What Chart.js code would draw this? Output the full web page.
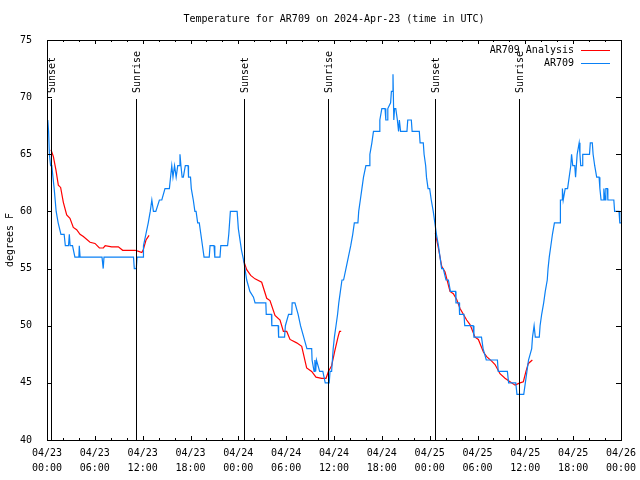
<!DOCTYPE html>
<html>
<head>
<meta charset="utf-8">
<script src="https://cdn.jsdelivr.net/npm/chart.js@4"></script>
<style>
  body { margin: 0; background: #fff; }
  canvas { display: block; }
</style>
</head>
<body>
<canvas id="myChart" width="640" height="480"></canvas>
<script>
// hours since 2024-04-23 00:00 UTC
var obsHours = [
  0.1, 0.2, 0.3, 0.45, 0.6, 0.9, 1.15, 1.4, 1.75, 2.15, 2.3, 2.7, 2.8, 2.9, 3.2, 3.5, 4.0, 4.05, 4.15,
  6.9, 7.05, 7.15, 10.85, 10.95, 11.2, 11.3, 12.05, 12.1, 12.4, 12.7, 12.95, 13.15, 13.35, 13.65,
  14.1, 14.4, 14.8, 15.35, 15.5, 15.65, 15.8, 16.0, 16.2, 16.4, 16.6, 16.68, 16.8, 16.95, 17.1,
  17.35, 17.7, 17.75, 18.0, 18.1, 18.35, 18.55, 18.7, 18.9, 19.1, 19.3, 19.5, 19.7, 20.35, 20.45,
  20.95, 21.05, 21.7, 21.8, 22.65, 22.8, 23.0, 23.85, 24.0, 24.4, 24.7, 25.05, 25.45, 25.9, 26.1,
  27.45, 27.5, 28.15, 28.2, 29.0, 29.05, 29.8, 29.9, 30.3, 30.7, 30.75, 31.1, 31.5, 31.8, 32.2,
  32.6, 33.2, 33.25, 33.5, 33.6, 33.7, 33.8, 34.2, 34.6, 34.9, 35.4, 35.5, 35.7, 35.9, 36.05,
  36.25, 36.45, 36.6, 36.8, 37.0, 37.2, 37.5, 37.8, 38.1, 38.35, 38.55, 39.0, 39.1, 39.3, 39.5,
  39.7, 40.0, 40.4, 40.5, 40.75, 40.95, 41.65, 41.75, 42.0, 42.4, 42.5, 42.7, 42.75, 43.1, 43.2,
  43.3, 43.4, 43.5, 43.6, 43.75, 43.95, 44.1, 44.2, 44.35, 45.15, 45.25, 45.7, 45.8, 46.7, 46.8,
  47.2, 47.3, 47.5, 47.6, 47.8, 48.0, 48.2, 48.45, 48.65, 48.85, 49.1, 49.3, 49.5, 49.7, 50.05,
  50.35, 50.6, 51.25, 51.3, 51.7, 51.75, 52.3, 52.4, 53.45, 53.55, 54.5, 54.7, 55.1, 56.5, 56.6,
  57.75, 57.9, 58.8, 58.95, 59.8, 60.0, 60.2, 60.4, 60.8, 60.9, 61.1, 61.25, 61.75, 61.85, 62.05,
  62.3, 62.5, 62.75, 62.85, 63.0, 63.2, 63.4, 63.65, 64.35, 64.4, 64.6, 64.65, 64.75, 65.0, 65.3,
  65.5, 65.7, 65.8, 65.95, 66.2, 66.3, 66.4, 66.5, 66.75, 66.85, 66.95, 67.15, 67.2, 68.05, 68.15,
  68.4, 68.5, 68.7, 68.95, 69.25, 69.35, 69.5, 69.75, 69.85, 70.0, 70.1, 70.3, 70.35, 71.1, 71.2,
  71.75, 71.85, 72.0
];
var obsTemps = [
  68, 67, 65, 64, 64, 62, 60, 59, 58, 58, 57, 57, 58, 57, 57, 56, 56, 57, 56,
  56, 55, 56, 56, 55, 55, 56, 56, 57, 58, 59, 60, 61, 60, 60,
  61, 61, 62, 62, 63, 64, 63, 64, 63, 64, 64, 65, 64, 63, 63,
  64, 64, 63, 63, 62, 61, 60, 60, 59, 59, 58, 57, 56, 56, 57,
  57, 56, 56, 57, 57, 58, 60, 60, 58.5, 56.6, 55.6, 54, 53, 52.5, 52,
  52, 51, 51, 50, 50, 49, 49, 50, 51, 51, 52, 52, 51, 50, 49,
  48, 48, 47, 46, 47, 46, 47, 46, 46, 45, 45, 46, 46, 48, 49,
  50, 51, 52, 53, 54, 54, 55, 56, 57, 58, 59, 59, 60, 61, 62,
  63, 64, 64, 65, 66, 67, 67, 68, 69, 69, 68, 68, 69, 69.5, 70.5,
  70.5, 72, 68, 69, 69, 68, 67, 68, 67, 67, 68, 68, 67, 67, 66,
  66, 65, 64, 63, 62, 62, 61, 60, 59, 58, 57, 56, 55, 55, 54,
  54, 53, 53, 52, 52, 51, 51, 50, 50, 49, 49, 48, 47, 47, 46,
  46, 45, 45, 44, 44, 45, 46, 47, 48, 49, 50, 49, 49, 50, 51,
  52, 53, 54, 55, 56, 57, 58, 59, 59, 61, 61, 62, 61, 62, 62,
  63, 64, 65, 64, 64, 63, 64, 65, 66, 65, 64, 64, 65, 65, 66,
  66, 65, 64, 63, 63, 62, 61, 61, 62, 61, 62, 62, 61, 61, 60,
  60, 59, 59
];

// analysis runs, null breaks the line between runs
var anaHours = [
  0.5, 0.8, 1.13, 1.42, 1.71, 2.05, 2.47, 2.88, 3.3, 3.72, 4.14, 4.56, 5.4, 6.02, 6.57, 7.07, 7.3,
  8.11, 8.95, 9.49, 11.04, 11.5, 11.9, 12.1, 12.42, 12.8,
  13.0,
  24.63, 25.05, 25.55, 26.09, 26.93, 27.56, 27.97, 28.6, 29.23, 29.65, 30.07, 30.48, 31.32, 31.95,
  32.57, 33.2, 33.74, 34.45, 35.0, 35.3, 35.7, 36.1, 36.5, 36.7, 36.9,
  37.5,
  48.71, 49.09, 49.51, 49.93, 50.55, 50.97, 51.39, 51.81, 52.64, 53.06, 53.69, 54.11, 54.74, 55.15,
  55.78, 56.2, 56.82, 57.45, 58.08, 58.71, 59.33, 59.75, 60.08, 60.38, 60.88
];
var anaTemps = [
  65.4, 64.8, 63.6, 62.3, 62.1, 60.8, 59.7, 59.4, 58.6, 58.4, 58.0, 57.8, 57.3, 57.2, 56.8, 56.8, 57.0,
  56.9, 56.9, 56.6, 56.6, 56.5, 56.4, 56.7, 57.5, 57.9,
  null,
  55.75, 54.9, 54.4, 54.1, 53.8, 52.4, 52.2, 50.9, 50.5, 49.5, 49.5, 48.8, 48.5, 48.2,
  46.3, 46.0, 45.5, 45.4, 45.4, 46.0, 46.5, 47.8, 49.0, 49.5, 49.5,
  null,
  58.1, 56.8, 55.2, 54.7, 53.0, 52.8, 52.3, 51.5, 50.5, 50.1, 49.0, 48.8, 47.7, 47.3,
  46.9, 46.6, 45.8, 45.4, 45.1, 44.8, 45.0, 45.1, 46.0, 46.7, 47.0
];

var sunHours = [0.55, 11.18, 24.65, 35.3, 48.7, 59.25];
var sunLabels = ["Sunset", "Sunrise", "Sunset", "Sunrise", "Sunset", "Sunrise"];

var xTickHours = [0, 6, 12, 18, 24, 30, 36, 42, 48, 54, 60, 66, 72];
var xTickLabels = [
  ["04/23", "00:00"], ["04/23", "06:00"], ["04/23", "12:00"], ["04/23", "18:00"],
  ["04/24", "00:00"], ["04/24", "06:00"], ["04/24", "12:00"], ["04/24", "18:00"],
  ["04/25", "00:00"], ["04/25", "06:00"], ["04/25", "12:00"], ["04/25", "18:00"],
  ["04/26", "00:00"]
];

var titleText = "Temperature for AR709 on 2024-Apr-23 (time in UTC)";
var monoFont = "'DejaVu Sans Mono', 'Liberation Mono', monospace";

function toPoints(hours, temps) {
  return hours.map((h, i) => ({ x: h, y: temps[i] }));
}

// frame, inward ticks, sun lines, title and key, drawn over the chart
var gnuplotLook = {
  id: "gnuplotLook",
  afterDatasetsDraw(chart) {
    var c = chart.ctx;
    var area = chart.chartArea;
    var xs = chart.scales.x;
    var ys = chart.scales.y;
    c.save();
    c.strokeStyle = "#000";
    c.fillStyle = "#000";
    c.lineWidth = 1;
    c.font = "10px " + monoFont;

    // sunrise / sunset markers
    sunHours.forEach((h, i) => {
      var px = Math.round(xs.getPixelForValue(h)) + 0.5;
      c.beginPath();
      c.moveTo(px, 99);
      c.lineTo(px, area.bottom);
      c.stroke();
      c.save();
      c.translate(px + 1, 93);
      c.rotate(-Math.PI / 2);
      c.textAlign = "left";
      c.textBaseline = "middle";
      c.fillText(sunLabels[i], 0, 0);
      c.restore();
    });

    // border
    c.strokeRect(Math.round(area.left) + 0.5, Math.round(area.top) + 0.5,
      Math.round(area.right - area.left), Math.round(area.bottom - area.top));

    // x ticks every 2 hours, longer on labelled ones
    c.beginPath();
    xs.ticks.forEach((t) => {
      var px = Math.round(xs.getPixelForValue(t.value)) + 0.5;
      var len = t.value % 6 === 0 ? 4 : 2;
      c.moveTo(px, area.bottom);
      c.lineTo(px, area.bottom - len);
      c.moveTo(px, area.top);
      c.lineTo(px, area.top + len);
    });
    ys.ticks.forEach((t) => {
      var py = Math.round(ys.getPixelForValue(t.value)) + 0.5;
      c.moveTo(area.left, py);
      c.lineTo(area.left + 5, py);
      c.moveTo(area.right, py);
      c.lineTo(area.right - 5, py);
    });
    c.stroke();

    // title
    c.textAlign = "center";
    c.textBaseline = "middle";
    c.fillText(titleText, (area.left + area.right) / 2, 19);

    // key
    c.textAlign = "right";
    var rows = [0, 1];
    rows.forEach((di, r) => {
      var ds = chart.data.datasets[di];
      var y = 50 + r * 13;
      c.fillStyle = "#000";
      c.fillText(ds.label, 574, y);
      c.strokeStyle = ds.borderColor;
      c.beginPath();
      c.moveTo(581, y + 0.5);
      c.lineTo(610, y + 0.5);
      c.stroke();
    });
    c.restore();
  }
};

var ctx = document.getElementById("myChart").getContext("2d");
var myChart = new Chart(ctx, {
  type: "line",
  data: {
    datasets: [
      {
        label: "AR709 Analysis",
        data: toPoints(anaHours, anaTemps),
        borderColor: "#ff0000",
        borderWidth: 1.2,
        pointRadius: 0,
        tension: 0,
        spanGaps: false,
        order: 1,
      },
      {
        label: "AR709",
        data: toPoints(obsHours, obsTemps),
        borderColor: "#0a80f5",
        borderWidth: 1.2,
        pointRadius: 0,
        tension: 0,
        order: 0,
      },
    ],
  },
  options: {
    responsive: false,
    animation: false,
    events: [],
    layout: { padding: { top: 40, right: 19, left: 0, bottom: 0 } },
    plugins: {
      legend: { display: false },
      title: { display: false },
      tooltip: { enabled: false },
    },
    scales: {
      x: {
        type: "linear",
        min: 0,
        max: 72,
        afterBuildTicks: (scale) => {
          var list = [];
          for (var h = 0; h <= 72; h += 2) list.push({ value: h });
          scale.ticks = list;
        },
        afterFit: (scale) => { scale.height = 40; },
        grid: { display: false },
        border: { display: false },
        ticks: {
          autoSkip: false,
          maxRotation: 0,
          minRotation: 0,
          padding: -2,
          color: "#000",
          font: { family: monoFont, size: 10, lineHeight: 1.5 },
          callback: (v) => {
            var k = xTickHours.indexOf(v);
            return k >= 0 ? xTickLabels[k] : "";
          },
        },
      },
      y: {
        min: 40,
        max: 75,
        afterFit: (scale) => { scale.width = 47; },
        grid: { display: false },
        border: { display: false },
        ticks: {
          stepSize: 5,
          padding: 7,
          color: "#000",
          font: { family: monoFont, size: 10 },
        },
        title: {
          display: true,
          text: "degrees F",
          color: "#000",
          font: { family: monoFont, size: 10 },
          padding: 4,
        },
      },
    },
  },
  plugins: [gnuplotLook],
});
</script>
</body>
</html>
